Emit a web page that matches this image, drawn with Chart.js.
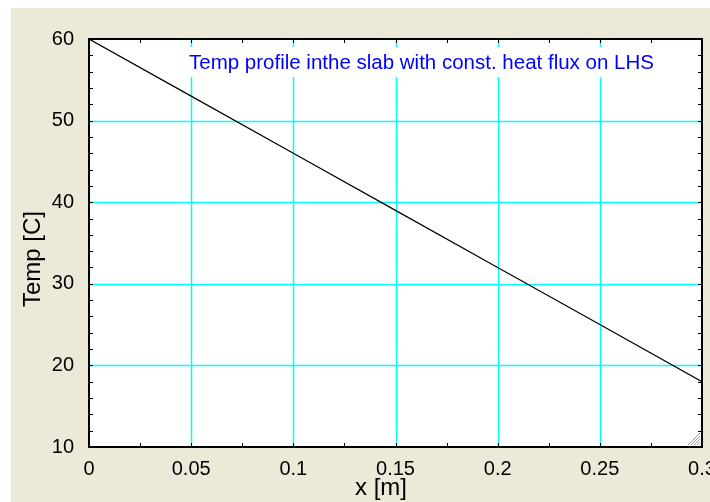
<!DOCTYPE html>
<html>
<head>
<meta charset="utf-8">
<script src="https://cdn.jsdelivr.net/npm/chart.js@4"></script>
<style>
  html, body { margin: 0; padding: 0; background: #fff; }
  #wrap { width: 710px; height: 502px; }
</style>
</head>
<body>
<div id="wrap"><canvas id="chart" width="710" height="502"></canvas></div>
<script>
// ---- data ----
const xValues = [0, 0.05, 0.1, 0.15, 0.2, 0.25, 0.3];
const tempValues = [60, 53, 46, 39, 32, 25, 18];
const xGridValues = [0.05, 0.1, 0.15, 0.2, 0.25];
const yGridValues = [20, 30, 40, 50];
const chartTitle = 'Temp profile inthe slab with const. heat flux on LHS';
const xLabel = 'x [m]';
const yLabel = 'Temp [C]';

const FONT = '"Liberation Sans", Arial, sans-serif';
const BEIGE = '#ECE9D8';

// background, grid, minor ticks, titles, frame, resize grip
const framePlugin = {
  id: 'frame',
  beforeDraw(chart) {
    const { ctx, chartArea: a } = chart;
    ctx.save();
    ctx.fillStyle = '#fff';
    ctx.fillRect(0, 0, chart.width, chart.height);
    ctx.fillStyle = BEIGE;
    ctx.fillRect(11, 8, chart.width - 11, chart.height - 8);
    ctx.fillStyle = '#fff';
    ctx.fillRect(a.left, a.top, a.right - a.left, a.bottom - a.top);
    ctx.restore();
  },
  beforeDatasetsDraw(chart) {
    const { ctx, chartArea: a, scales } = chart;
    ctx.save();
    ctx.strokeStyle = '#00ffff';
    ctx.lineWidth = 1.5;
    ctx.beginPath();
    xGridValues.forEach(v => {
      const px = Math.round(scales.x.getPixelForValue(v)) + 0.5;
      ctx.moveTo(px, a.top); ctx.lineTo(px, a.bottom);
    });
    yGridValues.forEach(v => {
      const py = Math.round(scales.y.getPixelForValue(v)) + 0.5;
      ctx.moveTo(a.left, py); ctx.lineTo(a.right, py);
    });
    ctx.stroke();
    ctx.restore();
  },
  afterDatasetsDraw(chart) {
    const { ctx, chartArea: a, scales } = chart;
    ctx.save();
    // title with white box
    ctx.font = '20.5px ' + FONT;
    ctx.textBaseline = 'middle';
    ctx.textAlign = 'left';
    const w = ctx.measureText(chartTitle).width;
    ctx.fillStyle = '#fff';
    ctx.fillRect(185, 47, w + 8, 30);
    ctx.fillStyle = '#0000ff';
    ctx.fillText(chartTitle, 189, 63);

    // axis titles
    ctx.fillStyle = '#000';
    ctx.font = '24px ' + FONT;
    ctx.textAlign = 'center';
    ctx.fillText(xLabel, 381, 488);
    ctx.save();
    ctx.translate(33, 259);
    ctx.rotate(-Math.PI / 2);
    ctx.fillText(yLabel, 0, 0);
    ctx.restore();

    // minor tick marks, inside, on all four sides
    ctx.strokeStyle = '#000';
    ctx.lineWidth = 1;
    ctx.beginPath();
    for (let v = 0.025; v < 0.3; v += 0.025) {
      const px = Math.round(scales.x.getPixelForValue(v)) + 0.5;
      ctx.moveTo(px, a.top); ctx.lineTo(px, a.top + 4);
      ctx.moveTo(px, a.bottom); ctx.lineTo(px, a.bottom - 4);
    }
    for (let v = 12; v < 60; v += 2) {
      const py = Math.round(scales.y.getPixelForValue(v)) + 0.5;
      ctx.moveTo(a.left, py); ctx.lineTo(a.left + 4, py);
      ctx.moveTo(a.right, py); ctx.lineTo(a.right - 4, py);
    }
    ctx.stroke();

    // black frame
    ctx.lineWidth = 2;
    ctx.strokeRect(a.left, a.top, a.right - a.left, a.bottom - a.top);

    // resize grip
    ctx.strokeStyle = '#999';
    ctx.lineWidth = 1;
    ctx.beginPath();
    for (let i = 0; i < 4; i++) {
      const d = 3 + i * 3;
      ctx.moveTo(a.right - 2 - d, a.bottom - 2);
      ctx.lineTo(a.right - 2, a.bottom - 2 - d);
    }
    ctx.stroke();
    ctx.restore();
  }
};

new Chart(document.getElementById('chart'), {
  type: 'line',
  data: {
    datasets: [{
      data: xValues.map((x, i) => ({ x, y: tempValues[i] })),
      borderColor: '#000',
      borderWidth: 1.2,
      pointRadius: 0,
      tension: 0
    }]
  },
  options: {
    responsive: false,
    animation: false,
    layout: { padding: { left: 0, top: 39, right: 8, bottom: 0 } },
    plugins: { legend: { display: false }, tooltip: { enabled: false } },
    scales: {
      x: {
        type: 'linear',
        min: 0, max: 0.3,
        border: { display: false },
        grid: { display: false },
        ticks: {
          stepSize: 0.05,
          padding: 2,
          color: '#000',
          maxRotation: 0,
          font: { family: FONT, size: 20 },
          callback: v => String(Math.round(v * 100) / 100)
        },
        afterFit(s) { s.height = 55; s.paddingLeft = 0; s.paddingRight = 0; }
      },
      y: {
        min: 10, max: 60,
        border: { display: false },
        grid: { display: false },
        ticks: {
          stepSize: 10,
          padding: 7,
          color: '#000',
          font: { family: FONT, size: 20 }
        },
        afterFit(s) { s.width = 89; s.paddingTop = 0; s.paddingBottom = 0; }
      }
    }
  },
  plugins: [framePlugin]
});
</script>
</body>
</html>
